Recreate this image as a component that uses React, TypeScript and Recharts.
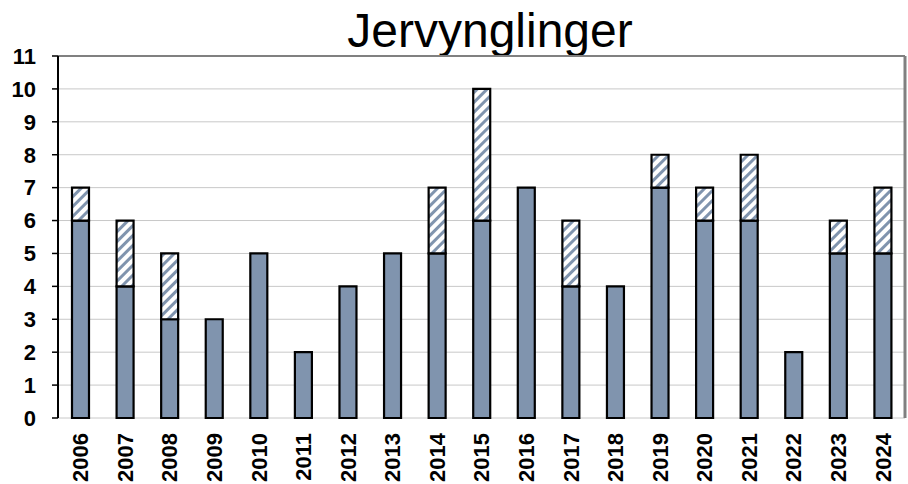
import { BarChart, Bar, XAxis, YAxis, CartesianGrid, ReferenceLine } from "recharts";

const years = [
  "2006", "2007", "2008", "2009", "2010", "2011", "2012", "2013", "2014", "2015",
  "2016", "2017", "2018", "2019", "2020", "2021", "2022", "2023", "2024",
];
const solid = [6, 4, 3, 3, 5, 2, 4, 5, 5, 6, 7, 4, 4, 7, 6, 6, 2, 5, 5];
const hatched = [1, 2, 2, 0, 0, 0, 0, 0, 2, 4, 0, 2, 0, 1, 1, 2, 0, 1, 2];
const yTicks = [0, 1, 2, 3, 4, 5, 6, 7, 8, 9, 10, 11];
const edgeTicks = years.map((_, i) => i).concat([years.length]);

const data = years.map((y, i) => ({ year: y, solid: solid[i], hatched: hatched[i] }));

const FONT = "'Liberation Sans', Arial, sans-serif";
const BAR = "#8094ae";

function YearTick({ x, y, payload }: any) {
  return (
    <text
      transform={`translate(${x},${y}) rotate(-90)`}
      textAnchor="end"
      dy="0.36em"
      fontFamily={FONT}
      fontWeight="bold"
      fontSize={22}
      fill="#000"
    >
      {payload.value}
    </text>
  );
}

export default function App() {
  return (
    <div style={{ position: "absolute", left: 0, top: 0, width: 908, height: 484, background: "#fff", overflow: "hidden" }}>
      <svg width={908} height={484} style={{ position: "absolute", left: 0, top: 0 }}>
        <defs>
          <pattern id="hatch" patternUnits="userSpaceOnUse" width={7} height={7} patternTransform="rotate(45)">
            <rect x={0} y={0} width={7} height={7} fill="#fff" />
            <rect x={0} y={0} width={3} height={7} fill={BAR} />
          </pattern>
        </defs>
        <text x={490} y={47} textAnchor="middle" fontFamily={FONT} fontSize={48} fill="#000">
          Jervynglinger
        </text>
      </svg>
      <div style={{ position: "absolute", left: 0, top: 0 }}>
        <BarChart
          width={908}
          height={484}
          data={data}
          margin={{ top: 56, right: 0, left: 0, bottom: 0 }}
          barSize={17}
        >
          <CartesianGrid horizontal vertical={false} stroke="#c8c8c8" fill="#fff" />
          <XAxis
            xAxisId="edges"
            type="number"
            domain={[0, years.length]}
            ticks={edgeTicks}
            interval={0}
            height={0}
            tick={false}
            tickSize={7}
            tickLine={{ stroke: "#000", strokeWidth: 1.5 }}
            axisLine={{ stroke: "#000", strokeWidth: 2 }}
          />
          <XAxis
            dataKey="year"
            height={66}
            interval={0}
            tickLine={false}
            axisLine={false}
            tickSize={6}
            tickMargin={9}
            tick={<YearTick />}
          />
          <YAxis
            domain={[0, 11]}
            ticks={yTicks}
            interval={0}
            width={58}
            tickSize={6}
            tickMargin={16}
            tickLine={{ stroke: "#000", strokeWidth: 1.5 }}
            axisLine={{ stroke: "#000", strokeWidth: 2 }}
            tick={{ fill: "#000", fontSize: 22, fontWeight: "bold", fontFamily: FONT }}
          />
          <YAxis
            yAxisId="right"
            orientation="right"
            domain={[0, 11]}
            width={3}
            tick={false}
            tickLine={false}
            axisLine={{ stroke: "#808080", strokeWidth: 3 }}
          />
          <ReferenceLine y={11} stroke="#808080" strokeWidth={2} />
          <Bar dataKey="solid" stackId="a" fill={BAR} stroke="#000" strokeWidth={2.2} isAnimationActive={false} />
          <Bar dataKey="hatched" stackId="a" fill="url(#hatch)" stroke="#000" strokeWidth={2.2} isAnimationActive={false} />
        </BarChart>
      </div>
    </div>
  );
}
